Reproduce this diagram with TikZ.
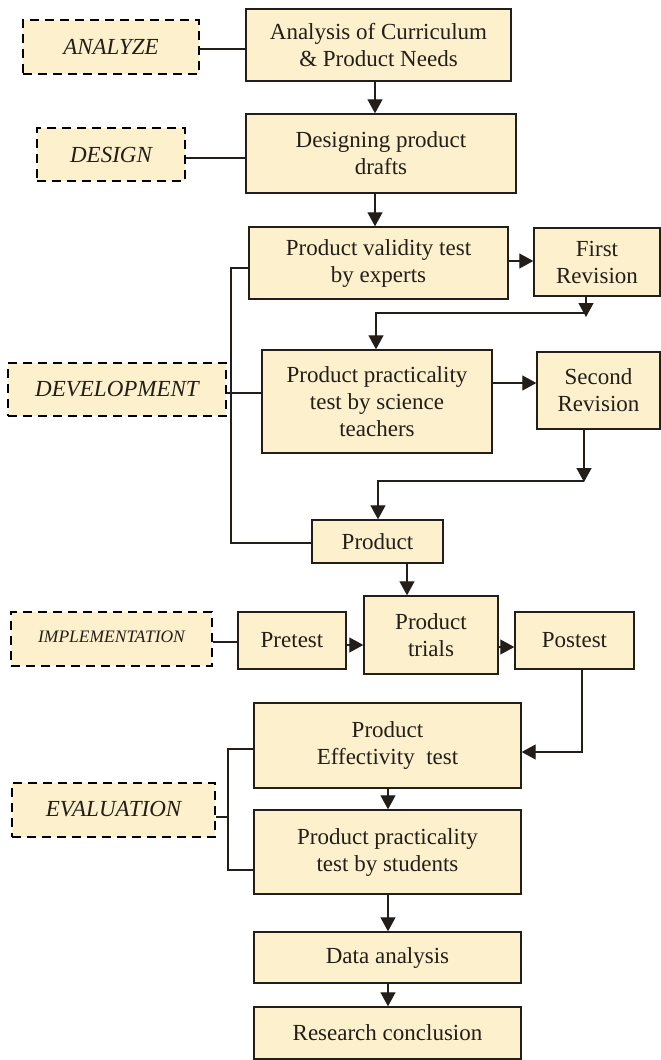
\documentclass[tikz,border=0pt]{standalone}
\usepackage{fontspec}
\setmainfont{Liberation Serif}
\usetikzlibrary{arrows.meta}
\definecolor{boxfill}{RGB}{253,240,204}
\definecolor{ink}{RGB}{35,30,25}
\tikzset{
  box/.style={draw=ink, line width=1.4pt, fill=boxfill, align=center, inner sep=0pt,
    font=\fontsize{23}{27}\selectfont, text=ink},
  phase/.style={draw=black, line width=2.8pt, dash pattern=on 9pt off 6pt, fill=boxfill,
    inner sep=0pt, align=center, font=\fontsize{23}{24}\selectfont\itshape, text=ink},
  conn/.style={line width=1.3pt, draw=ink},
  arr/.style={conn, -{Triangle[length=14pt,width=15pt]}},
}
\begin{document}
\begin{tikzpicture}[x=1pt,y=-1pt]
\useasboundingbox (0,0) rectangle (661,1060);
% phase boxes
\node[phase, minimum width=176pt, minimum height=54pt] (ana) at (111,47) {ANALYZE};
\node[phase, minimum width=148pt, minimum height=53pt] (des) at (111,154.5) {DESIGN};
\node[phase, minimum width=218pt, minimum height=53pt] (dev) at (117,389.5) {DEVELOPMENT};
\node[phase, minimum width=201pt, minimum height=54pt, font=\fontsize{17.5}{18}\selectfont\itshape] (imp) at (111.5,639) {\raisebox{5pt}{IMPLEMENTATION}};
\node[phase, minimum width=203pt, minimum height=54pt] (eval) at (113.5,810) {\raisebox{3pt}{EVALUATION}};
% process boxes
\node[box, minimum width=265pt, minimum height=72pt] (analysis) at (378.5,45) {Analysis of Curriculum\\ \& Product Needs};
\node[box, minimum width=270pt, minimum height=79pt] (designing) at (381,153.5) {Designing product\\ drafts};
\node[box, minimum width=259pt, minimum height=72pt] (validity) at (378.5,263) {Product validity test\\ by experts};
\node[box, minimum width=126pt, minimum height=68pt] (first) at (597,262) {First\\ Revision};
\node[box, minimum width=230pt, minimum height=103pt] (practsci) at (377,401.5) {Product practicality\\ test by science\\ teachers};
\node[box, minimum width=123pt, minimum height=77pt] (second) at (598.5,390.5) {Second\\ Revision};
\node[box, minimum width=131pt, minimum height=43pt] (product) at (377.5,541.5) {Product};
\node[box, minimum width=134pt, minimum height=78pt] (trials) at (431,635) {Product\\ trials};
\node[box, minimum width=108pt, minimum height=57pt] (pretest) at (292,640.5) {Pretest};
\node[box, minimum width=119pt, minimum height=57pt] (postest) at (574.5,640.5) {Postest};
\node[box, minimum width=267pt, minimum height=85pt] (effect) at (387.5,745.5) {Product\\ Effectivity\ \ test};
\node[box, minimum width=267pt, minimum height=84pt] (students) at (387.5,852) {Product practicality\\ test by students};
\node[box, minimum width=267pt, minimum height=51pt] (data) at (387.5,957.5) {Data analysis};
\node[box, minimum width=267pt, minimum height=52pt] (research) at (387.5,1033) {Research conclusion};
% helper coordinates
\coordinate (c1) at (375,0);
\coordinate (fr) at (586,313);
\coordinate (frl) at (376,313);
\coordinate (sr) at (584,481);
\coordinate (srl) at (378,481);
\coordinate (vl) at (231,268);
\coordinate (pl) at (231,543);
\coordinate (pd) at (407,0);
\coordinate (pt) at (582,752);
\coordinate (ev) at (228,817);
\coordinate (ev1) at (228,749);
\coordinate (ev2) at (228,870);
\coordinate (c2) at (388,0);
% phase connectors
\draw[conn] (ana.east |- 0,49) -- (analysis.west |- 0,49);
\draw[conn] (des.east |- 0,158) -- (designing.west |- 0,158);
\draw[conn] (dev.east |- 0,393) -- (practsci.west |- 0,393);
\draw[conn] (imp.east |- 0,642) -- (pretest.west |- 0,642);
\draw[conn] (eval.east |- ev) -- (ev);
\draw[conn] (effect.west |- ev1) -- (ev1) -- (ev2) -- (students.west |- ev2);
\draw[conn] (validity.west |- vl) -- (vl) -- (pl) -- (product.west |- pl);
% flow
\draw[arr] (analysis.south -| c1) -- (designing.north -| c1);
\draw[arr] (designing.south -| c1) -- (validity.north -| c1);
\draw[arr] (validity.east |- 0,261) -- (first.west |- 0,261);
\draw[arr] (first.south -| fr) -- ([yshift=-4pt]fr);
\draw[arr] (fr) -- (frl) -- (practsci.north -| frl);
\draw[arr] (practsci.east |- 0,383) -- (second.west |- 0,383);
\draw[arr] (second.south -| sr) -- ([yshift=-1pt]sr);
\draw[arr] (sr) -- (srl) -- (product.north -| srl);
\draw[arr] (product.south -| pd) -- (trials.north -| pd);
\draw[arr] (pretest.east |- 0,645) -- (trials.west |- 0,645);
\draw[arr] (trials.east |- 0,647) -- (postest.west |- 0,647);
\draw[arr] (postest.south -| pt) -- (pt) -- (effect.east |- pt);
\draw[arr] (effect.south -| c2) -- (students.north -| c2);
\draw[arr] (students.south -| c2) -- (data.north -| c2);
\draw[arr] (data.south -| c2) -- (research.north -| c2);
\end{tikzpicture}
\end{document}
